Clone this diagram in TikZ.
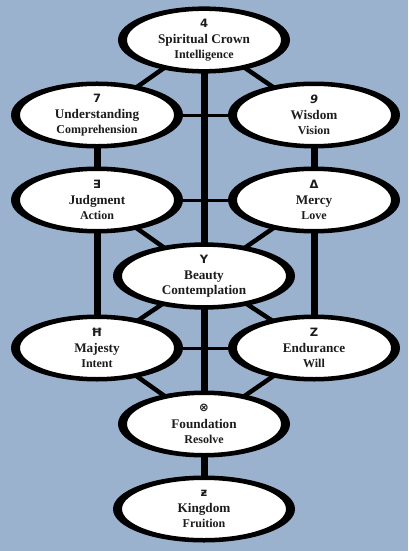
\documentclass[tikz,border=0pt]{standalone}
\usepackage{fontspec}
\setmainfont{Liberation Serif}
\newfontfamily\glyphfont{DejaVu Sans}
\usetikzlibrary{shapes.geometric,calc}
\pgfdeclarelayer{back}
\pgfdeclarelayer{bg}
\pgfdeclarelayer{rim}
\pgfsetlayers{back,bg,rim,main}
\definecolor{sky}{RGB}{155,178,206}
\definecolor{ink}{RGB}{28,28,28}
\newcommand\glyph[1]{{\glyphfont\bfseries\fontsize{11.5}{13}\selectfont #1}}
\newcommand\subline[1]{{\fontsize{12}{14}\selectfont #1}}
\tikzset{
  sef/.style={ellipse, draw=black, line width=2pt, fill=white,
    minimum width=156pt, minimum height=60pt, inner sep=0pt,
    align=center, text=ink, font=\bfseries\fontsize{13.2}{15}\selectfont},
  widesef/.style={sef, minimum width=166pt},
  pillar/.style={draw=black, line width=7pt},
  bar/.style={draw=black, line width=3pt},
  chan/.style={draw=black, line width=4.5pt},
}
\begin{document}
\begin{tikzpicture}[x=1pt,y=-1pt]
\begin{pgfonlayer}{back}
\fill[sky] (0,0) rectangle (408,551);
\end{pgfonlayer}
\useasboundingbox (0,0) rectangle (408,551);

\node[sef] (crown) at (204,40) {\glyph{4}\\[1.5pt]Spiritual Crown\\\subline{Intelligence}};
\node[sef] (under) at (97,115) {\glyph{7}\\[1.5pt]Understanding\\\subline{Comprehension}};
\node[sef] (wisdom) at (314,115) {\glyph{\itshape 9}\\[1.5pt]Wisdom\\\subline{Vision}};
\node[sef] (judg) at (97,200) {\glyph{∃}\\[1.5pt]Judgment\\\subline{Action}};
\node[sef] (mercy) at (314,200) {\glyph{Δ}\\[1.5pt]Mercy\\\subline{Love}};
\node[widesef] (beauty) at (204,276) {{\glyphfont\fontsize{11.5}{13}\selectfont Y}\\[1.5pt]Beauty\\Contemplation};
\node[sef] (majesty) at (97,348) {\glyph{Ħ}\\[1.5pt]Majesty\\\subline{Intent}};
\node[sef] (endur) at (314,348) {\glyph{Z}\\[1.5pt]Endurance\\\subline{Will}};
\node[sef] (found) at (204,424) {\glyph{⊗}\\[1.5pt]Foundation\\\subline{Resolve}};
\node[widesef] (kingdom) at (204,509) {\glyph{ƶ}\\[1.5pt]Kingdom\\\subline{Fruition}};

\begin{pgfonlayer}{rim}
\foreach \s in {crown,under,wisdom,judg,mercy,beauty,majesty,endur,found,kingdom}{
  \fill[black] let \p1=(\s.east), \p2=(\s.center), \p3=(\s.north) in
    (\p2) ellipse [x radius={\x1-\x2+7pt}, y radius={abs(\y3-\y2)+2.5pt}];
}
\end{pgfonlayer}

\begin{pgfonlayer}{bg}
\draw[pillar] (crown) -- (kingdom);
\draw[pillar] (under) -- (majesty);
\draw[pillar] (wisdom) -- (endur);
\draw[bar] (under) -- (wisdom);
\draw[bar] (judg) -- (mercy);
\draw[bar] (majesty) -- (endur);
\draw[chan] (crown) -- (under);
\draw[chan] (crown) -- (wisdom);
\draw[chan] (judg) -- (beauty);
\draw[chan] (mercy) -- (beauty);
\draw[chan] (beauty) -- (majesty);
\draw[chan] (beauty) -- (endur);
\draw[chan] (majesty) -- (found);
\draw[chan] (endur) -- (found);
\end{pgfonlayer}
\end{tikzpicture}
\end{document}
